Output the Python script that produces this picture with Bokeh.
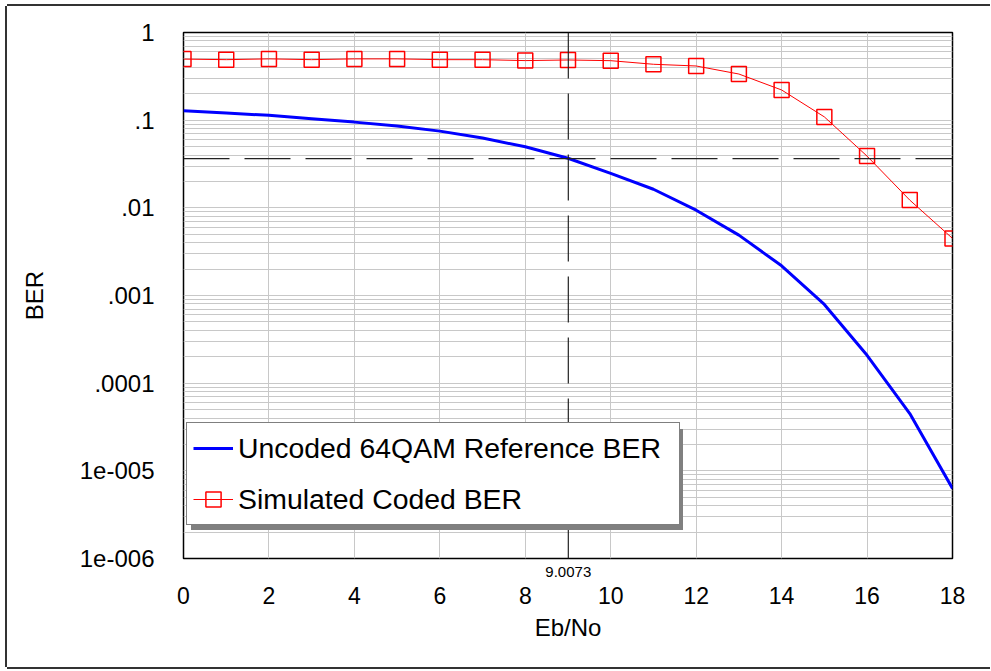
from bokeh.plotting import figure
from bokeh.models import (Range1d, FixedTicker, CustomJSTickFormatter, Span, LinearAxis,
                          Legend, LegendItem, BoxAnnotation)
from bokeh.embed import file_html
from bokeh.resources import INLINE

# ---------------- data ----------------
ebno = list(range(19))
uncoded_ber = [0.128, 0.1205, 0.1135, 0.104, 0.095, 0.0857, 0.075, 0.0625, 0.0497,
               0.0368, 0.0247, 0.0163, 0.0094, 0.00488, 0.00218, 0.00079, 0.000208,
               4.5e-5, 6.3e-6]
coded_ber = [0.497, 0.49, 0.5, 0.49, 0.5, 0.5, 0.49, 0.49, 0.478, 0.486, 0.477,
             0.434, 0.415, 0.336, 0.221, 0.109, 0.0389, 0.01225, 0.00448]
series_names = ["Uncoded 64QAM Reference BER", "Simulated Coded BER"]
x_ticks = [0, 2, 4, 6, 8, 10, 12, 14, 16, 18]
y_ticks = [1e-6, 1e-5, 1e-4, 1e-3, 1e-2, 1e-1, 1]
y_tick_labels = ["1", ".1", ".01", ".001", ".0001", "1e-005", "1e-006"]  # index = -log10
marker_x = 9.0073
marker_y = 0.0365
marker_label = "9.0073"

FONT = "Liberation Sans"

p = figure(frame_width=769, frame_height=526,
           min_border_left=176, min_border_right=38, min_border_top=26, min_border_bottom=109,
           x_range=Range1d(0, 18), y_range=Range1d(1e-6, 1), y_axis_type="log",
           output_backend="svg", toolbar_location=None)
# outer picture frame (left, top, bottom edges; right edge lies beyond the window)
p.styles = {"margin": "6px 0px 0px 7px",
            "box-shadow": "-2px 0 0 0 #333333, 0 -2px 0 0 #333333, 0 2px 0 0 #333333"}
p.background_fill_color = "white"
p.border_fill_color = "white"
p.outline_line_color = "black"
p.outline_line_width = 1.5

# grids
minor = [m * 10.0 ** e for e in range(-6, 0) for m in range(2, 10)]
p.xaxis.ticker = FixedTicker(ticks=x_ticks)
p.yaxis.ticker = FixedTicker(ticks=y_ticks, minor_ticks=minor)
p.xgrid.ticker = FixedTicker(ticks=x_ticks)
p.ygrid.ticker = FixedTicker(ticks=y_ticks, minor_ticks=minor)
p.xgrid.grid_line_color = "#c8c8c8"
p.ygrid.grid_line_color = "#c8c8c8"
p.ygrid.minor_grid_line_color = "#c8c8c8"
p.xgrid.grid_line_width = 1
p.ygrid.grid_line_width = 1

# axes
p.yaxis.formatter = CustomJSTickFormatter(args=dict(labels=y_tick_labels),
                                          code="const i = Math.round(-Math.log10(tick)); return labels[i];")
marker_axis = LinearAxis(ticker=FixedTicker(ticks=[marker_x]),
                         formatter=CustomJSTickFormatter(args=dict(label=marker_label),
                                                         code="return label;"))
main_x = p.xaxis[0]
for ax in (main_x, p.yaxis[0], marker_axis):
    ax.axis_line_color = None
    ax.major_tick_out = 0
    ax.major_tick_in = 0
    ax.minor_tick_out = 0
    ax.minor_tick_in = 0
    ax.major_label_text_font = FONT
    ax.major_label_text_color = "black"
    ax.axis_label_text_font = FONT
    ax.axis_label_text_font_style = "normal"
    ax.axis_label_text_font_size = "24px"
    ax.axis_label_text_color = "black"
marker_axis.major_label_text_font_size = "15px"
marker_axis.major_label_standoff = 8
main_x.major_label_text_font_size = "23px"
p.yaxis.major_label_text_font_size = "24px"
main_x.axis_label = "Eb/No"
p.yaxis.axis_label = "BER"
main_x.major_label_standoff = 7
main_x.axis_label_standoff = 7
p.yaxis.major_label_standoff = 29
p.yaxis.axis_label_standoff = 29
p.below = [marker_axis, main_x]

# series
blue = p.line(ebno, uncoded_ber, line_color="#0000ff", line_width=3)
red_line = p.line(ebno, coded_ber, line_color="#ff0000", line_width=1)
red_sq = p.scatter(ebno, coded_ber, marker="square", size=15, fill_color=None,
                   line_color="#ff0000", line_width=1.5)

# marker lines
p.add_layout(Span(location=marker_x, dimension="height", line_color="#222222",
                  line_width=1.2, line_dash="46 15"))
p.add_layout(Span(location=marker_y, dimension="width", line_color="#222222",
                  line_width=1.2, line_dash="46 15"))

# legend shadow + legend
p.add_layout(BoxAnnotation(left=7.5, right=499.5, bottom=28.5, top=129.5,
                           left_units="screen", right_units="screen",
                           top_units="screen", bottom_units="screen",
                           fill_color="#808080", fill_alpha=1.0, line_color=None))
legend = Legend(items=[LegendItem(label=series_names[0], renderers=[blue]),
                       LegendItem(label=series_names[1], renderers=[red_line, red_sq])],
                location=(3, 33), margin=0, padding=6, spacing=13,
                glyph_width=40, glyph_height=38, label_height=38, label_width=435,
                label_standoff=5, label_text_font=FONT, label_text_font_size="28.4px",
                label_text_color="black", border_line_color="black", border_line_width=1.5,
                background_fill_color="white", background_fill_alpha=1.0)
p.add_layout(legend, "center")

open("out.html", "w").write(file_html(p, INLINE))
